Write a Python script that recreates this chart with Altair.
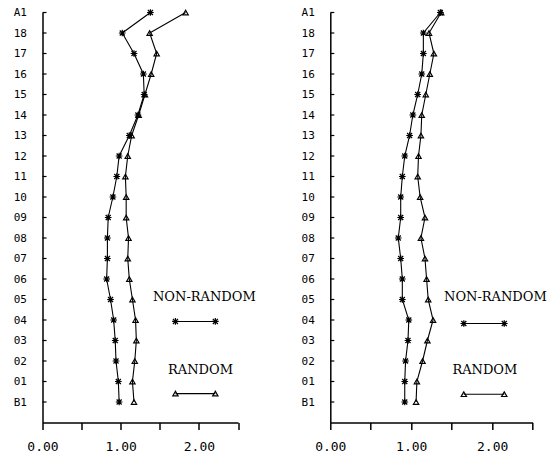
import altair as alt
import pandas as pd

# ---------------- data ----------------
row_labels = ["B1", "01", "02", "03", "04", "05", "06", "07", "08", "09",
              "10", "11", "12", "13", "14", "15", "16", "17", "18", "A1"]
series_names = ["NON-RANDOM", "RANDOM"]

left_nonrandom = [0.98, 0.97, 0.94, 0.93, 0.91, 0.87, 0.82, 0.83, 0.83, 0.84,
                  0.90, 0.95, 0.98, 1.11, 1.22, 1.30, 1.29, 1.17, 1.02, 1.38]
left_random = [1.17, 1.15, 1.18, 1.20, 1.19, 1.15, 1.11, 1.09, 1.10, 1.07,
               1.07, 1.06, 1.09, 1.14, 1.23, 1.31, 1.39, 1.46, 1.37, 1.83]
right_nonrandom = [0.92, 0.92, 0.93, 0.96, 0.97, 0.89, 0.89, 0.87, 0.84, 0.87,
                   0.87, 0.89, 0.92, 0.98, 1.02, 1.08, 1.13, 1.15, 1.15, 1.36]
right_random = [1.06, 1.07, 1.14, 1.20, 1.27, 1.21, 1.19, 1.17, 1.12, 1.17,
                1.11, 1.08, 1.09, 1.12, 1.13, 1.18, 1.23, 1.28, 1.22, 1.37]

x_tick_values = [0.0, 0.5, 1.0, 1.5, 2.0, 2.5]

# legend key placement (data units of each panel)
left_key = {"text_x": [2.07, 2.02], "text_y": [6.1, 2.54],
            "line_x": [1.70, 2.21], "line_y": [4.93, 1.41]}
right_key = {"text_x": [2.04, 1.91], "text_y": [6.1, 2.54],
             "line_x": [1.65, 2.15], "line_y": [4.83, 1.38]}

# ---------------- styling ----------------
ASTERISK = "M-1,0L1,0M0,-1L0,1M-0.75,-0.75L0.75,0.75M-0.75,0.75L0.75,-0.75"
shape_scale = alt.Scale(domain=series_names, range=[ASTERISK, "triangle-up"])
size_scale = alt.Scale(domain=series_names, range=[45, 28])
label_array = "[''," + ",".join("'%s'" % s for s in row_labels) + "]"

xaxis = alt.Axis(values=x_tick_values, grid=False, title=None,
                 labelExpr="datum.value % 1 == 0 ? format(datum.value, '.2f') : ''",
                 labelFont="DejaVu Sans Mono", labelFontSize=13, labelColor="black",
                 tickSize=7, tickWidth=1.5, tickColor="black", labelPadding=11,
                 domainColor="black", domainWidth=1.5, labelFlush=False,
                 labelOverlap=False)
yaxis = alt.Axis(values=list(range(1, 21)), grid=False, title=None, ticks=False,
                 labelExpr=label_array + "[datum.value]",
                 labelFont="DejaVu Sans Mono", labelFontSize=11, labelColor="black",
                 labelPadding=16, domainColor="black", domainWidth=1.5,
                 labelOverlap=False, labelFlush=False, labelBound=False)


def panel(nonrandom, random, width, key):
    rows = []
    for name, vals in zip(series_names, [nonrandom, random]):
        for i, v in enumerate(vals):
            rows.append({"series": name, "idx": i + 1, "value": v})
    df = pd.DataFrame(rows)

    xs = alt.Scale(domain=[0, 2.5], nice=False, zero=False)
    ys = alt.Scale(domain=[0, 20], nice=False, zero=False)

    def X(f):
        return alt.X(f, scale=xs, axis=xaxis)

    def Y(f):
        return alt.Y(f, scale=ys, axis=yaxis)

    base = alt.Chart(df)
    lines = base.mark_line(color="black", strokeWidth=1.1).encode(
        x=X("value:Q"), y=Y("idx:Q"), detail="series:N", order="idx:Q")
    pts = base.mark_point(filled=False, color="black", strokeWidth=1.2, opacity=1).encode(
        x=X("value:Q"), y=Y("idx:Q"),
        shape=alt.Shape("series:N", scale=shape_scale, legend=None),
        size=alt.Size("series:N", scale=size_scale, legend=None),
    )
    ticks = alt.Chart(pd.DataFrame({"idx": list(range(1, 21))})).mark_rule(
        color="black", strokeWidth=1.2).encode(
        y=Y("idx:Q"), x=alt.value(0), x2=alt.value(4))

    # legend key
    kl = []
    for j, name in enumerate(series_names):
        for xv in key["line_x"]:
            kl.append({"series": name, "value": xv, "idx": key["line_y"][j]})
    kl = pd.DataFrame(kl)
    kt = pd.DataFrame({"series": series_names, "value": key["text_x"], "idx": key["text_y"]})
    key_lines = alt.Chart(kl).mark_line(color="black", strokeWidth=1.1).encode(
        x=X("value:Q"), y=Y("idx:Q"), detail="series:N")
    key_pts = alt.Chart(kl).mark_point(filled=False, color="black", strokeWidth=1.2,
                                       opacity=1).encode(
        x=X("value:Q"), y=Y("idx:Q"),
        shape=alt.Shape("series:N", scale=shape_scale, legend=None),
        size=alt.Size("series:N", scale=size_scale, legend=None))
    key_text = alt.Chart(kt).mark_text(font="DejaVu Serif", fontSize=13, color="black",
                                       align="center", baseline="middle").encode(
        x=X("value:Q"), y=Y("idx:Q"), text="series:N")

    return alt.layer(lines, ticks, pts, key_lines, key_pts, key_text).properties(
        width=width, height=410)


left = panel(left_nonrandom, left_random, 195.5, left_key)
right = panel(right_nonrandom, right_random, 202.3, right_key)

chart = alt.hconcat(left, right, spacing=91.8, bounds="flush").resolve_scale(
    x="independent", y="independent"
).properties(
    padding={"left": 12.5, "top": 6.5, "right": 0, "bottom": 0},
    background="white",
).configure_view(stroke=None).configure_axis(labelOverlap=False)

chart.save("out.html", embed_options={"renderer": "svg", "actions": False})
